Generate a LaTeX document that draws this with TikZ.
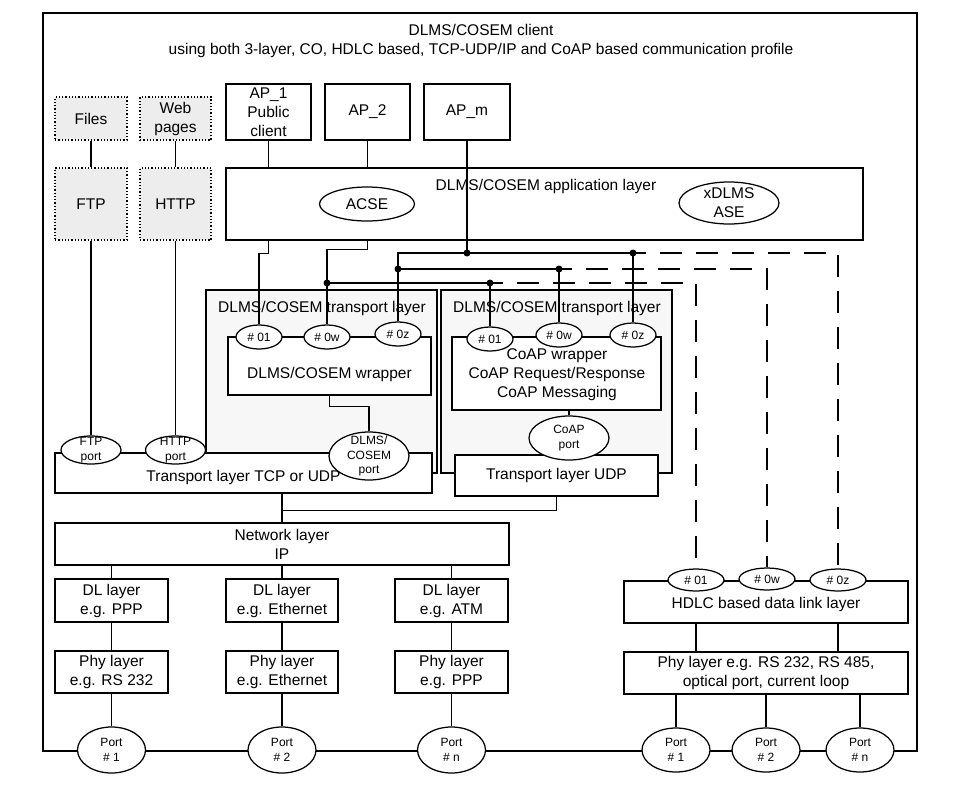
\documentclass[tikz,border=0pt]{standalone}
\usepackage{fontspec}
\setmainfont{Liberation Sans}
\usetikzlibrary{shapes.geometric}
\newcommand\fA{\fontsize{15.5}{19}\selectfont}
\newcommand\fB{\fontsize{12}{14.5}\selectfont}
\newcommand\fC{\fontsize{12}{14.5}\selectfont}
\begin{document}
\begin{tikzpicture}[x=1pt,y=-1pt,line width=1.25pt,
  box/.style={draw,fill=white,inner sep=0pt,align=center,font=\fA},
  gbox/.style={draw,dotted,fill=gray!14,inner sep=0pt,align=center,font=\fA},
  tbox/.style={draw,fill=gray!6,inner sep=0pt},
  ell/.style={draw,fill=white,ellipse,inner sep=0pt},
  lbl/.style={inner sep=0pt,align=center,font=\fA},
  slbl/.style={inner sep=0pt,align=center,font=\fB},
  dot/.style={circle,fill=black,inner sep=0pt,minimum size=7pt},
  dsh/.style={dash pattern=on 22pt off 14pt,dash phase=9pt}]
\useasboundingbox (0,0) rectangle (969,785);
% frame
\node[draw,inner sep=0pt,minimum width=874pt,minimum height=738pt] (frame) at (480,382) {};
\node[lbl] (title) at (481,41) {DLMS/COSEM client\\using both 3-layer, CO, HDLC based, TCP-UDP/IP and CoAP based communication profile};
% top boxes
\node[gbox,minimum width=72pt,minimum height=43pt] (files) at (91,118.5) {Files};
\node[gbox,minimum width=71pt,minimum height=43pt] (web) at (175.5,118.5) {Web\\pages};
\node[gbox,minimum width=72pt,minimum height=72pt] (ftp) at (91,204) {FTP};
\node[gbox,minimum width=71pt,minimum height=72pt] (http) at (175.5,204) {HTTP};
\node[box,minimum width=85pt,minimum height=56pt] (ap1) at (268.5,112) {AP\_1\\Public\\client};
\node[box,minimum width=85pt,minimum height=56pt] (ap2) at (367.5,112) {AP\_2};
\node[box,minimum width=86pt,minimum height=56pt] (apm) at (467,112) {AP\_m};
\node[box,minimum width=637pt,minimum height=72pt] (app) at (544.5,204) {};
\node[lbl] (applbl) at (546,186) {DLMS/COSEM application layer};
\node[ell,minimum width=95pt,minimum height=34pt] (acse) at (367,204) {};
\node[lbl] (acseT) at (acse) {ACSE};
\node[ell,minimum width=100pt,minimum height=42pt] (xdlms) at (729,203) {};
\node[lbl] (xdlmsT) at (xdlms) {xDLMS\\ASE};
\draw (files.south) -- (ftp.north);
\draw (web.south) -- (http.north);
\draw (ap1.south) -- (ap1.south |- app.north);
\draw (ap2.south) -- (ap2.south |- app.north);
% transport layers
\node[tbox,minimum width=231pt,minimum height=183pt] (lgray) at (321.5,381.5) {};
\node[tbox,minimum width=231pt,minimum height=183pt] (rgray) at (556.5,381.5) {};
\node[lbl] (lgrayT) at (322,308) {DLMS/COSEM transport layer};
\node[lbl] (rgrayT) at (557,308) {DLMS/COSEM transport layer};
\node[box,minimum width=203pt,minimum height=58pt] (wrap) at (329.5,366) {};
\node[lbl] (wrapT) at (329.5,374) {DLMS/COSEM wrapper};
\node[box,minimum width=209pt,minimum height=73pt] (coap) at (556.5,373.5) {};
\node[lbl] (coapT) at (557,375) {CoAP wrapper\\CoAP Request/Response\\CoAP Messaging};
\node[ell,slbl,minimum width=46pt,minimum height=24pt] (l01) at (259,337) {\# 01};
\node[ell,slbl,minimum width=46pt,minimum height=24pt] (l0w) at (327,337) {\# 0w};
\node[ell,slbl,minimum width=46pt,minimum height=24pt] (l0z) at (398,334) {\# 0z};
\node[ell,slbl,minimum width=46pt,minimum height=24pt] (r01) at (490,339) {\# 01};
\node[ell,slbl,minimum width=46pt,minimum height=24pt] (r0w) at (559,335) {\# 0w};
\node[ell,slbl,minimum width=46pt,minimum height=24pt] (r0z) at (633,335) {\# 0z};
% TCP / UDP
\node[box,minimum width=377pt,minimum height=40pt] (tcp) at (243.5,473) {};
\node[lbl] (tcpT) at (243.5,477) {Transport layer TCP or UDP};
\node[box,minimum width=203pt,minimum height=41pt] (udp) at (556.5,475.5) {Transport layer UDP};
\node[ell,minimum width=60pt,minimum height=28pt] (ftpport) at (91,450) {};
\node[slbl] (ftpportT) at (ftpport) {FTP\\port};
\node[ell,minimum width=60pt,minimum height=28pt] (httpport) at (175.5,450) {};
\node[slbl] (httpportT) at (httpport) {HTTP\\port};
\node[ell,minimum width=80pt,minimum height=48pt] (dport) at (369,456) {};
\node[inner sep=0pt,align=center,font=\fC] (dportT) at (dport) {DLMS/\\COSEM\\port};
\node[ell,minimum width=80pt,minimum height=44pt] (cport) at (569,438) {};
\node[inner sep=0pt,align=center,font=\fC] (cportT) at (cport) {CoAP\\port};
% lower left stack
\node[box,minimum width=454pt,minimum height=42pt] (net) at (282,544) {Network layer\\IP};
\node[box,minimum width=113pt,minimum height=43pt] (dl1) at (111.5,600.5) {DL layer\\e.g. PPP};
\node[box,minimum width=112pt,minimum height=43pt] (dl2) at (282,600.5) {DL layer\\e.g. Ethernet};
\node[box,minimum width=113pt,minimum height=43pt] (dl3) at (451.5,600.5) {DL layer\\e.g. ATM};
\node[box,minimum width=113pt,minimum height=42pt] (phy1) at (111.5,672) {Phy layer\\e.g. RS 232};
\node[box,minimum width=112pt,minimum height=42pt] (phy2) at (282,672) {Phy layer\\e.g. Ethernet};
\node[box,minimum width=113pt,minimum height=42pt] (phy3) at (451.5,672) {Phy layer\\e.g. PPP};
\node[ell,minimum width=68pt,minimum height=46pt] (p1) at (111.5,750) {};
\node[slbl] (p1T) at (p1) {Port\\\# 1};
\node[ell,minimum width=68pt,minimum height=46pt] (p2) at (282,750) {};
\node[slbl] (p2T) at (p2) {Port\\\# 2};
\node[ell,minimum width=68pt,minimum height=46pt] (p3) at (451.5,750) {};
\node[slbl] (p3T) at (p3) {Port\\\# n};
% HDLC stack
\node[box,minimum width=284pt,minimum height=42pt] (hdlc) at (766,602) {};
\node[lbl] (hdlcT) at (766,604) {HDLC based data link layer};
\node[ell,slbl,minimum width=56pt,minimum height=22pt] (h01) at (696,580) {\# 01};
\node[ell,slbl,minimum width=56pt,minimum height=22pt] (h0w) at (767,579) {\# 0w};
\node[ell,slbl,minimum width=56pt,minimum height=22pt] (h0z) at (838,580) {\# 0z};
\node[box,minimum width=284pt,minimum height=42pt] (phyr) at (766,673) {Phy layer e.g. RS 232, RS 485,\\optical port, current loop};
\node[ell,minimum width=68pt,minimum height=44pt] (rp1) at (676,750) {};
\node[slbl] (rp1T) at (rp1) {Port\\\# 1};
\node[ell,minimum width=68pt,minimum height=44pt] (rp2) at (766,750) {};
\node[slbl] (rp2T) at (rp2) {Port\\\# 2};
\node[ell,minimum width=68pt,minimum height=44pt] (rp3) at (860,750) {};
\node[slbl] (rp3T) at (rp3) {Port\\\# n};
% buses from application layer
\coordinate (busA) at (398,253);
\coordinate (busB) at (398,269);
\coordinate (busC) at (327,283);
\draw (ap1.south |- app.south) -- ++(0,13) -| (l01.north);
\draw (ap2.south |- app.south) -- ++(0,9) -| (l0w.north);
\draw (apm.south) -- (apm.south |- busA);
\draw (l0z.north) |- (r0z.north |- busA) -- (r0z.north);
\draw (busB) -| (r0w.north);
\draw (busC) -| (r01.north);
\draw[dsh] (r0z.north |- busA) -| (h0z.north);
\draw[dsh] (r0w.north |- busB) -| (h0w.north);
\draw[dsh] (r01.north |- busC) -| (h01.north);
\node[dot] (dA1) at (apm.south |- busA) {};
\node[dot] (dA2) at (r0z.north |- busA) {};
\node[dot] (dB1) at (busB) {};
\node[dot] (dB2) at (r0w.north |- busB) {};
\node[dot] (dC1) at (busC) {};
\node[dot] (dC2) at (r01.north |- busC) {};
% other connectors
\draw (ftp.south) -- (ftpport.north);
\draw (http.south) -- (httpport.north);
\draw (wrap.south) -- ++(0,11) -| (dport.north);
\draw (coap.south -| cport.north) -- (cport.north);
\draw (tcp.south -| net.north) -- (net.north);
\draw (udp.south) -- ++(0,14) -| (net.north);
\draw (net.south -| dl1.north) -- (dl1.north);
\draw (net.south -| dl2.north) -- (dl2.north);
\draw (net.south -| dl3.north) -- (dl3.north);
\draw (dl1.south) -- (phy1.north);
\draw (dl2.south) -- (phy2.north);
\draw (dl3.south) -- (phy3.north);
\draw (phy1.south) -- (p1.north);
\draw (phy2.south) -- (p2.north);
\draw (phy3.south) -- (p3.north);
\draw (hdlc.south -| h01) -- (phyr.north -| h01);
\draw (hdlc.south -| h0z) -- (phyr.north -| h0z);
\draw (phyr.south -| rp1) -- (rp1.north);
\draw (phyr.south -| rp2) -- (rp2.north);
\draw (phyr.south -| rp3) -- (rp3.north);
\end{tikzpicture}
\end{document}
